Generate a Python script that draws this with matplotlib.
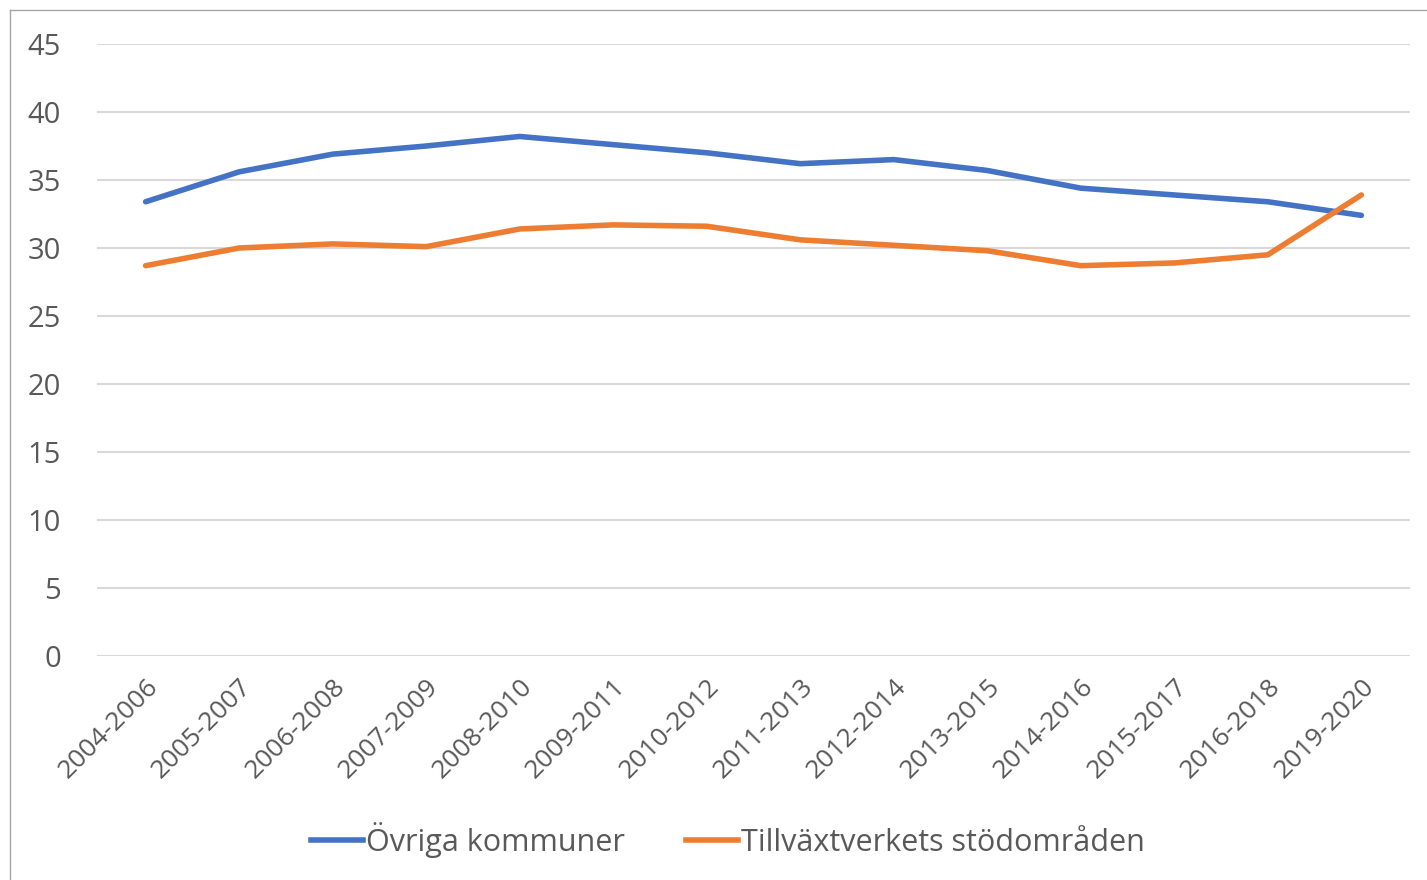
import matplotlib.pyplot as plt
from matplotlib.lines import Line2D

periods = ["2004-2006", "2005-2007", "2006-2008", "2007-2009", "2008-2010",
           "2009-2011", "2010-2012", "2011-2013", "2012-2014", "2013-2015",
           "2014-2016", "2015-2017", "2016-2018", "2019-2020"]
ovriga = [33.4, 35.6, 36.9, 37.5, 38.2, 37.6, 37.0, 36.2, 36.5, 35.7,
          34.4, 33.9, 33.4, 32.4]
stodomraden = [28.7, 30.0, 30.3, 30.1, 31.4, 31.7, 31.6, 30.6, 30.2, 29.8,
               28.7, 28.9, 29.5, 33.9]
yticks = [0, 5, 10, 15, 20, 25, 30, 35, 40, 45]

plt.rcParams['font.family'] = ['Open Sans', 'DejaVu Sans']
text_color = "#595959"

fig = plt.figure(figsize=(14.27, 8.8), dpi=100)
ax = fig.add_axes([97 / 1427, 1 - 656 / 880, (1410 - 97) / 1427, (656 - 44) / 880])

x = list(range(len(periods)))
ax.plot(x, ovriga, color="#4472C4", lw=4, solid_capstyle="round",
        label="Övriga kommuner")
ax.plot(x, stodomraden, color="#ED7D31", lw=4, solid_capstyle="round",
        label="Tillväxtverkets stödområden")

ax.set_xlim(-0.52, len(periods) - 0.48)
ax.set_ylim(0, 45)
ax.set_yticks(yticks)
ax.set_yticklabels([str(v) for v in yticks], fontsize=21, color=text_color)
ax.set_xticks(x)
ax.set_xticklabels(periods, rotation=45, ha="right", rotation_mode="anchor",
                   fontsize=19, color=text_color)
ax.tick_params(length=0)
ax.tick_params(axis="y", pad=26)
ax.tick_params(axis="x", pad=13)
ax.grid(axis="y", color="#D9D9D9", lw=1.5)
ax.set_axisbelow(True)
for s in ax.spines.values():
    s.set_visible(False)

handles = [Line2D([], [], color="#4472C4", lw=4),
           Line2D([], [], color="#ED7D31", lw=4)]
fig.legend(handles, ["Övriga kommuner", "Tillväxtverkets stödområden"],
           loc="center", bbox_to_anchor=(728 / 1427, 1 - 840 / 880), ncol=2,
           frameon=False, fontsize=22, labelcolor=text_color,
           handlelength=1.7, handletextpad=0.1, columnspacing=2.0)

# thin chart frame on the left and top
fig.add_artist(Line2D([10 / 1427, 10 / 1427], [0, 1 - 10 / 880], color="#A6A6A6", lw=1))
fig.add_artist(Line2D([10 / 1427, 1], [1 - 10 / 880, 1 - 10 / 880], color="#A6A6A6", lw=1))

fig.savefig("out.png", dpi=100)
